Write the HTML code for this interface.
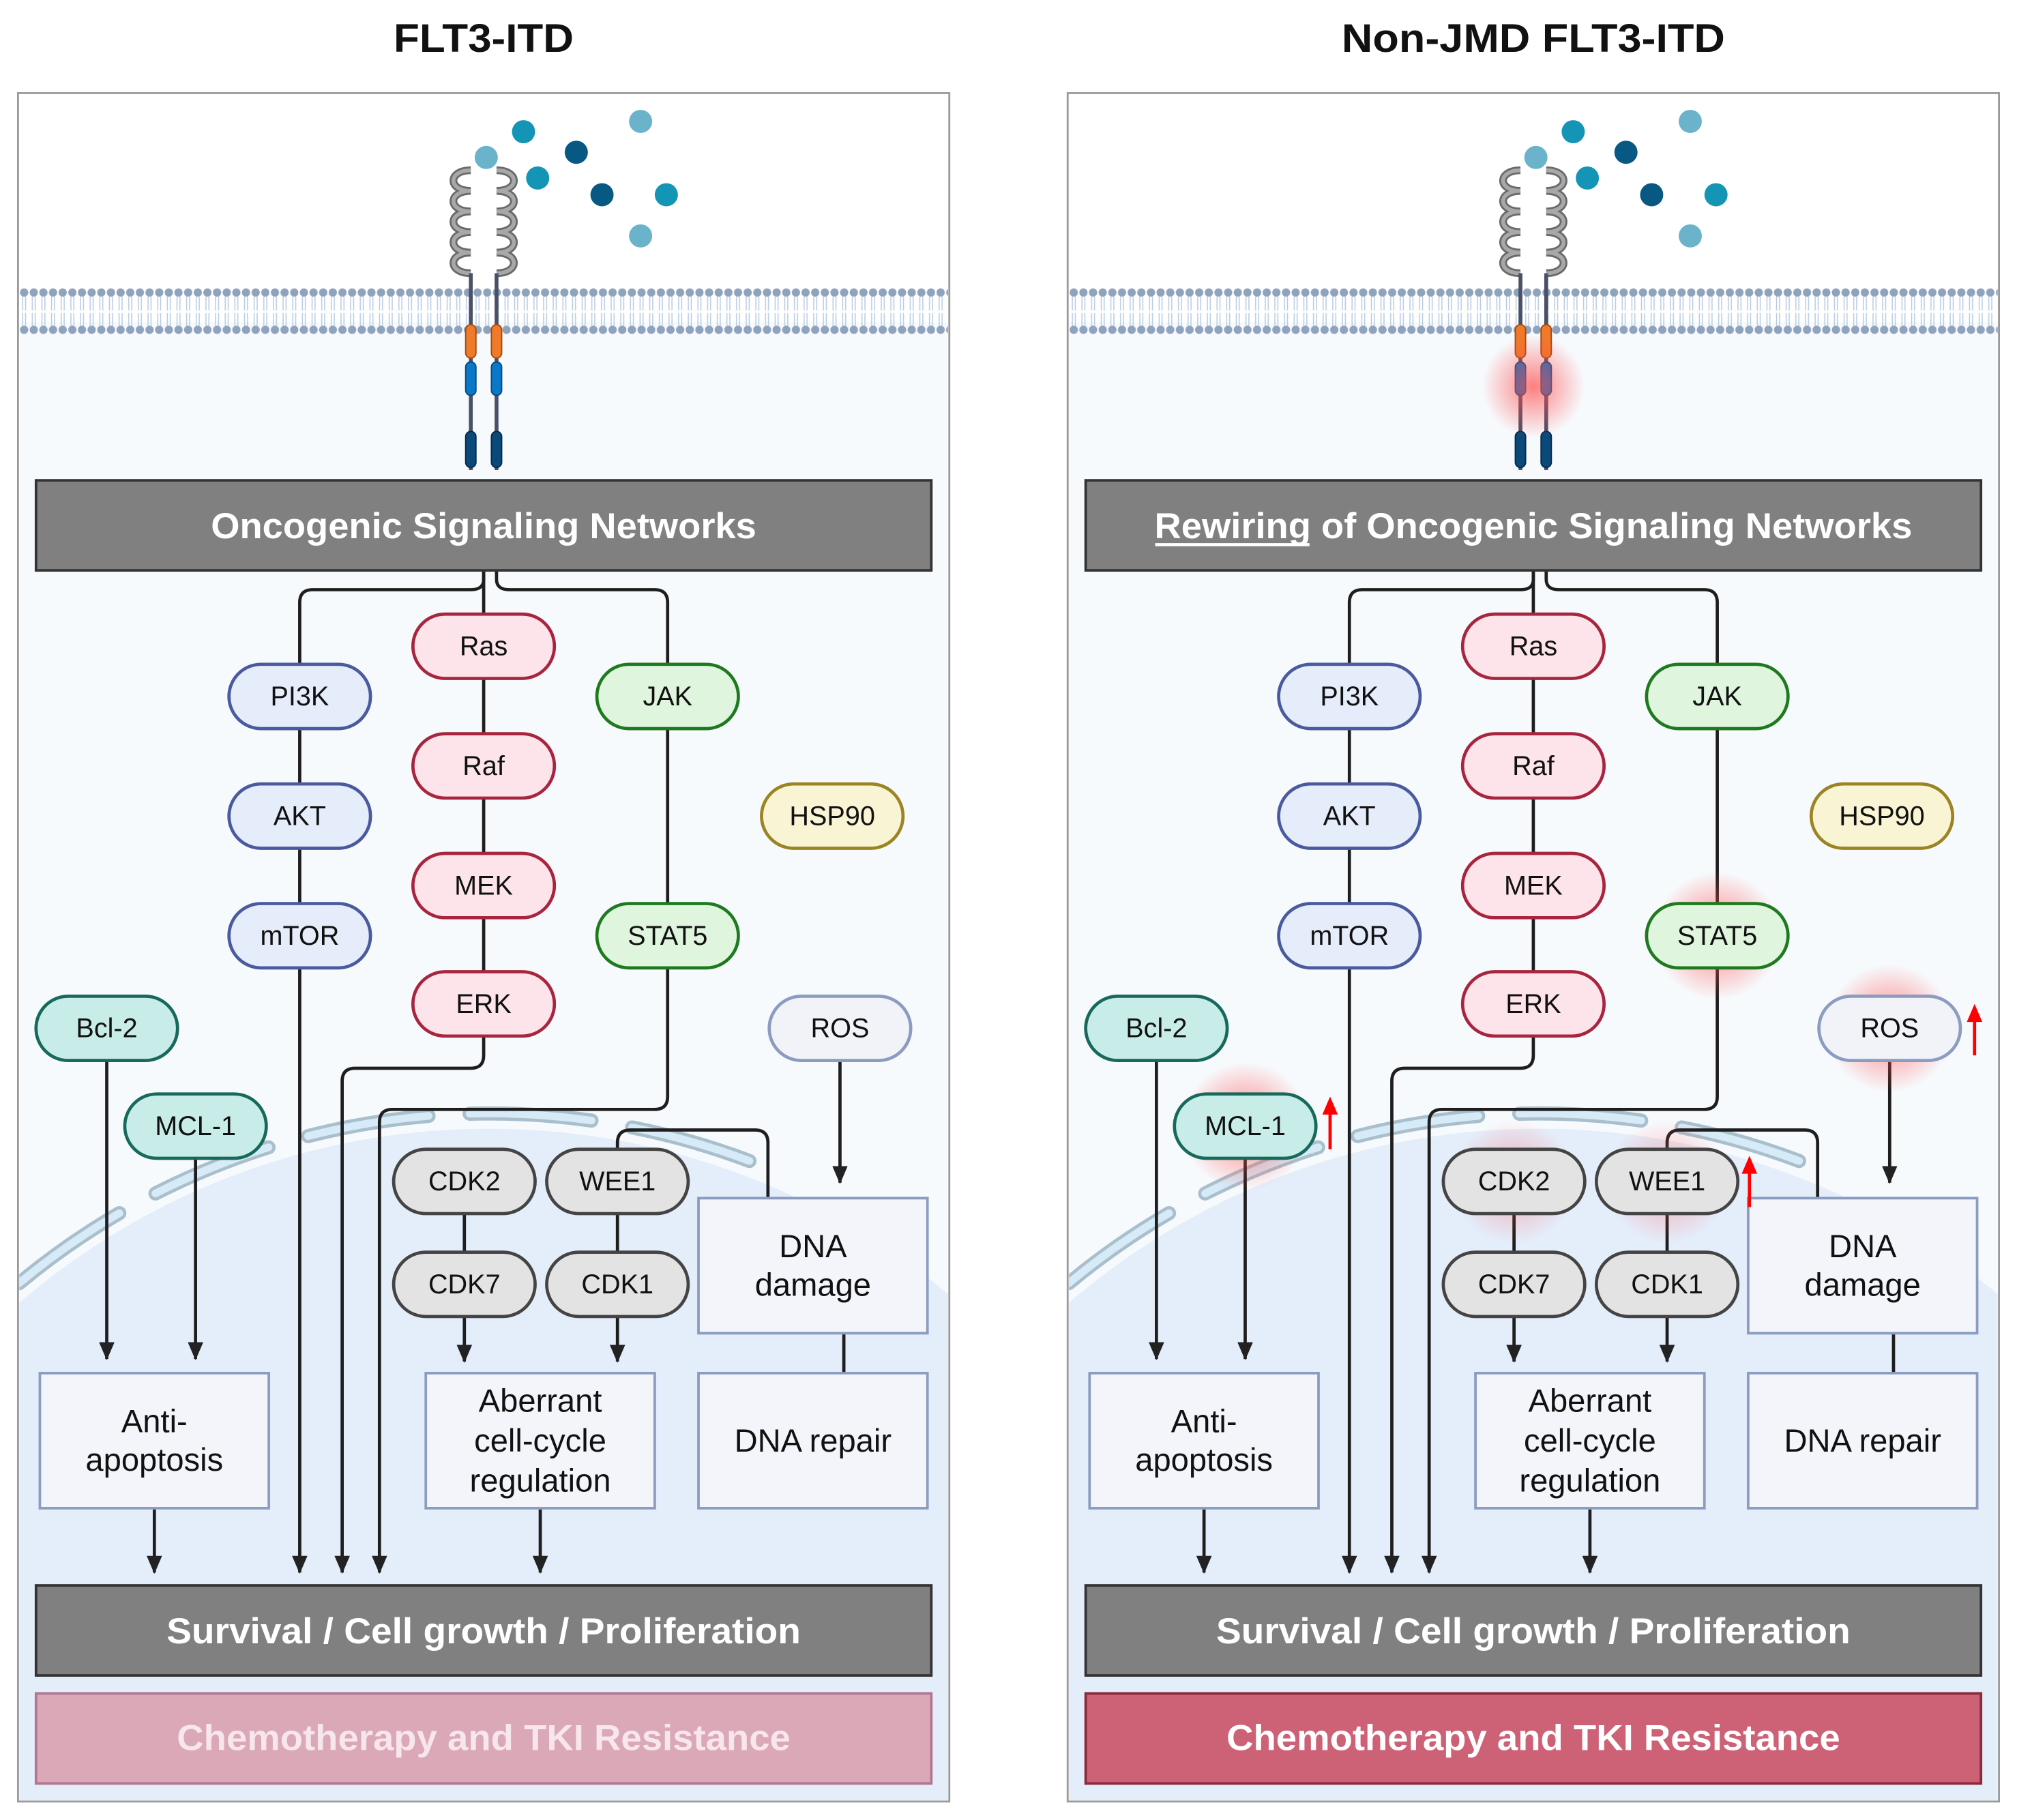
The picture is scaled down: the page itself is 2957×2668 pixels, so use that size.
<!DOCTYPE html>
<html><head><meta charset="utf-8"><style>
html,body{margin:0;padding:0;background:#fff;width:2957px;height:2668px;overflow:hidden}
svg{display:block}
text{font-family:"Liberation Sans",sans-serif}
</style></head><body>
<svg width="2957" height="2668" viewBox="0 0 1568 1414" xmlns="http://www.w3.org/2000/svg">
<defs>
<marker id="ar" markerWidth="14" markerHeight="12" refX="13" refY="6" orient="auto" markerUnits="userSpaceOnUse" viewBox="0 0 14 12">
<path d="M0,0 L14,6 L0,12 Z" fill="#222"/>
</marker>
<radialGradient id="glow"><stop offset="0" stop-color="#ff4a4a" stop-opacity="0.7"/><stop offset="1" stop-color="#ff4a4a" stop-opacity="0"/></radialGradient>
<clipPath id="pc"><rect x="15" y="73" width="722" height="1326"/></clipPath>
<pattern id="mem" x="0" y="222" width="7.5" height="40" patternUnits="userSpaceOnUse">
<path d="M2.6,8 L2.6,19 M4.9,8 L4.9,19 M2.6,21 L2.6,31 M4.9,21 L4.9,31" stroke="#b8cbe0" stroke-width="0.8" fill="none"/>
<circle cx="3.75" cy="5" r="3.2" fill="#8fa3bd"/>
<circle cx="3.75" cy="34" r="3.2" fill="#8fa3bd"/>
</pattern>
<g id="panel">
<rect x="14" y="72" width="724" height="1328" fill="#fff" stroke="#9a9a9a" stroke-width="1.5"/>
<g clip-path="url(#pc)">
<rect x="14" y="250" width="724" height="1150" fill="#f7fafd"/>
<circle cx="380" cy="1437" r="560" fill="#e4edfa"/>
<path d="M15,997 A572,572 0 0 1 600,909" fill="none" stroke="#a9bfcc" stroke-width="11" stroke-dasharray="95 32" stroke-linecap="round"/>
<path d="M15,997 A572,572 0 0 1 600,909" fill="none" stroke="#d6eaf7" stroke-width="6" stroke-dasharray="95 32" stroke-linecap="round"/>
<rect x="14" y="222" width="724" height="40" fill="url(#mem)"/>
</g>
<g fill="none" stroke="#6a6a6a" stroke-width="6">
<path d="M366,132 c-18,0 -18,16 0,16 c-18,0 -18,16 0,16 c-18,0 -18,16 0,16 c-18,0 -18,16 0,16 c-18,0 -18,16 0,16"/>
<path d="M386,132 c18,0 18,16 0,16 c18,0 18,16 0,16 c18,0 18,16 0,16 c18,0 18,16 0,16 c18,0 18,16 0,16"/>
</g>
<g fill="none" stroke="#a8a8a8" stroke-width="3">
<path d="M366,132 c-18,0 -18,16 0,16 c-18,0 -18,16 0,16 c-18,0 -18,16 0,16 c-18,0 -18,16 0,16 c-18,0 -18,16 0,16"/>
<path d="M386,132 c18,0 18,16 0,16 c18,0 18,16 0,16 c18,0 18,16 0,16 c18,0 18,16 0,16 c18,0 18,16 0,16"/>
</g>
<path d="M366,212 V365 M386,212 V365" stroke="#4a5068" stroke-width="3"/>
<g stroke-width="1">
<rect x="362" y="252" width="8" height="26" rx="4" fill="#f07a2a" stroke="#a04a10"/>
<rect x="382" y="252" width="8" height="26" rx="4" fill="#f07a2a" stroke="#a04a10"/>
<rect x="362" y="281" width="8" height="26" rx="4" fill="#0a78c8" stroke="#064a80"/>
<rect x="382" y="281" width="8" height="26" rx="4" fill="#0a78c8" stroke="#064a80"/>
<rect x="362" y="335" width="8" height="28" rx="4" fill="#0a4a7a" stroke="#052a4a"/>
<rect x="382" y="335" width="8" height="28" rx="4" fill="#0a4a7a" stroke="#052a4a"/>
</g>
<g>
<circle cx="378" cy="122" r="9" fill="#6ab3cb"/><circle cx="407" cy="102" r="9" fill="#1495b5"/>
<circle cx="418" cy="138" r="9" fill="#1495b5"/><circle cx="448" cy="118" r="9" fill="#075883"/>
<circle cx="468" cy="151" r="9" fill="#075883"/><circle cx="498" cy="94" r="9" fill="#6ab3cb"/>
<circle cx="518" cy="151" r="9" fill="#1495b5"/><circle cx="498" cy="183" r="9" fill="#6ab3cb"/>
</g>
<g fill="none" stroke="#1e1e1e" stroke-width="2.5">
<path d="M376,443 V450 Q376,458 366,458 H243 Q233,458 233,468 V516"/>
<path d="M386,443 V450 Q386,458 396,458 H509 Q519,458 519,468 V516"/>
<path d="M376,443 V477"/>
<path d="M376,527 V570 M376,620 V663 M376,713 V755"/>
<path d="M233,566 V609 M233,659 V702"/>
<path d="M519,566 V702"/>
<path d="M233,752 V1222" marker-end="url(#ar)"/>
<path d="M376,805 V820 Q376,830 366,830 H276 Q266,830 266,840 V1222" marker-end="url(#ar)"/>
<path d="M519,752 V852 Q519,862 509,862 H305 Q295,862 295,872 V1222" marker-end="url(#ar)"/>
<path d="M83,824 V1056" marker-end="url(#ar)"/>
<path d="M152,900 V1056" marker-end="url(#ar)"/>
<path d="M361,943 V973 M480,943 V973"/>
<path d="M361,1023 V1058" marker-end="url(#ar)"/>
<path d="M480,1023 V1058" marker-end="url(#ar)"/>
<path d="M480,893 V888 Q480,878 490,878 H587 Q597,878 597,888 V931"/>
<path d="M653,824 V919" marker-end="url(#ar)"/>
<path d="M656,1036 V1067"/>
<path d="M120,1173 V1222" marker-end="url(#ar)"/>
<path d="M420,1173 V1222" marker-end="url(#ar)"/>
</g>
<g fill="#f3f5fa" stroke="#8a9cc0" stroke-width="2">
<rect x="543" y="931" width="178" height="105"/>
<rect x="543" y="1067" width="178" height="105"/>
<rect x="31" y="1067" width="178" height="105"/>
<rect x="331" y="1067" width="178" height="105"/>
</g>
<g font-size="25" fill="#111" text-anchor="middle">
<text x="632" y="977">DNA</text><text x="632" y="1007">damage</text>
<text x="632" y="1128">DNA repair</text>
<text x="120" y="1113">Anti-</text><text x="120" y="1143">apoptosis</text>
<text x="420" y="1097">Aberrant</text><text x="420" y="1128">cell-cycle</text><text x="420" y="1159">regulation</text>
</g>
<rect x="28" y="1232" width="696" height="70" fill="#808080" stroke="#333" stroke-width="2"/>
<text x="376" y="1277" font-size="28" font-weight="bold" fill="#fff" text-anchor="middle" textLength="493" lengthAdjust="spacingAndGlyphs">Survival / Cell growth / Proliferation</text>
</g>
<g id="pills" font-size="21" text-anchor="middle" fill="#111" stroke-width="2.5">
<g fill="#e5ecfa" stroke="#4a5a9e">
<rect x="178" y="516" width="110" height="50" rx="25"/><rect x="178" y="609" width="110" height="50" rx="25"/><rect x="178" y="702" width="110" height="50" rx="25"/></g>
<g fill="#fde4ea" stroke="#a8253f">
<rect x="321" y="477" width="110" height="50" rx="25"/><rect x="321" y="570" width="110" height="50" rx="25"/><rect x="321" y="663" width="110" height="50" rx="25"/><rect x="321" y="755" width="110" height="50" rx="25"/></g>
<g fill="#dff5de" stroke="#1f7a1f">
<rect x="464" y="516" width="110" height="50" rx="25"/><rect x="464" y="702" width="110" height="50" rx="25"/></g>
<rect x="592" y="609" width="110" height="50" rx="25" fill="#f8f4d4" stroke="#9a8424"/>
<rect x="598" y="774" width="110" height="50" rx="25" fill="#f1f3f9" stroke="#8c9cc0"/>
<g fill="#c8ede8" stroke="#17695c">
<rect x="28" y="774" width="110" height="50" rx="25"/><rect x="97" y="850" width="110" height="50" rx="25"/></g>
<g fill="#e3e3e3" stroke="#444">
<rect x="306" y="893" width="110" height="50" rx="25"/><rect x="425" y="893" width="110" height="50" rx="25"/>
<rect x="306" y="973" width="110" height="50" rx="25"/><rect x="425" y="973" width="110" height="50" rx="25"/></g>
<g stroke="none">
<text x="233" y="548">PI3K</text><text x="233" y="641">AKT</text><text x="233" y="734">mTOR</text>
<text x="376" y="509">Ras</text><text x="376" y="602">Raf</text><text x="376" y="695">MEK</text><text x="376" y="787">ERK</text>
<text x="519" y="548">JAK</text><text x="519" y="734">STAT5</text>
<text x="647" y="641">HSP90</text><text x="653" y="806">ROS</text>
<text x="83" y="806">Bcl-2</text><text x="152" y="882">MCL-1</text>
<text x="361" y="925">CDK2</text><text x="480" y="925">WEE1</text><text x="361" y="1005">CDK7</text><text x="480" y="1005">CDK1</text>
</g>
</g>
</defs>

<text x="376" y="40" font-size="31" font-weight="bold" text-anchor="middle" fill="#111" textLength="140" lengthAdjust="spacingAndGlyphs">FLT3-ITD</text>
<text x="1192" y="40" font-size="31" font-weight="bold" text-anchor="middle" fill="#111" textLength="298" lengthAdjust="spacingAndGlyphs">Non-JMD FLT3-ITD</text>

<use href="#panel"/>
<rect x="28" y="373" width="696" height="70" fill="#808080" stroke="#333" stroke-width="2"/>
<text x="376" y="418" font-size="28" font-weight="bold" fill="#fff" text-anchor="middle" textLength="424" lengthAdjust="spacingAndGlyphs">Oncogenic Signaling Networks</text>
<use href="#pills"/>
<rect x="28" y="1316" width="696" height="70" fill="#dba8b8" stroke="#b07890" stroke-width="2"/>
<text x="376" y="1360" font-size="28" font-weight="bold" fill="#f7e6ec" text-anchor="middle" textLength="477" lengthAdjust="spacingAndGlyphs">Chemotherapy and TKI Resistance</text>

<g transform="translate(816,0)">
<use href="#panel"/>
<circle cx="376" cy="300" r="40" fill="url(#glow)"/>
<circle cx="519" cy="727" r="50" fill="url(#glow)"/>
<circle cx="653" cy="799" r="50" fill="url(#glow)"/>
<circle cx="152" cy="875" r="50" fill="url(#glow)"/>
<circle cx="361" cy="918" r="48" fill="url(#glow)" opacity="0.6"/>
<circle cx="480" cy="918" r="48" fill="url(#glow)" opacity="0.6"/>
<rect x="28" y="373" width="696" height="70" fill="#808080" stroke="#333" stroke-width="2"/>
<text x="376" y="418" font-size="28" font-weight="bold" fill="#fff" text-anchor="middle" textLength="589" lengthAdjust="spacingAndGlyphs">Rewiring of Oncogenic Signaling Networks</text>
<line x1="82" y1="423" x2="202" y2="423" stroke="#fff" stroke-width="2.5"/>
<use href="#pills"/>
<g stroke="#f00" stroke-width="2.5" fill="#f00">
<line x1="218" y1="893" x2="218" y2="862"/><path d="M212,866 L218,852 L224,866 Z" stroke="none"/>
<line x1="719" y1="820" x2="719" y2="790"/><path d="M713,794 L719,780 L725,794 Z" stroke="none"/>
<line x1="544" y1="938" x2="544" y2="908"/><path d="M538,912 L544,898 L550,912 Z" stroke="none"/>
</g>
<rect x="28" y="1316" width="696" height="70" fill="#cd6176" stroke="#8a2a3a" stroke-width="2"/>
<text x="376" y="1360" font-size="28" font-weight="bold" fill="#fff" text-anchor="middle" textLength="477" lengthAdjust="spacingAndGlyphs">Chemotherapy and TKI Resistance</text>
</g>
</svg>
</body></html>
